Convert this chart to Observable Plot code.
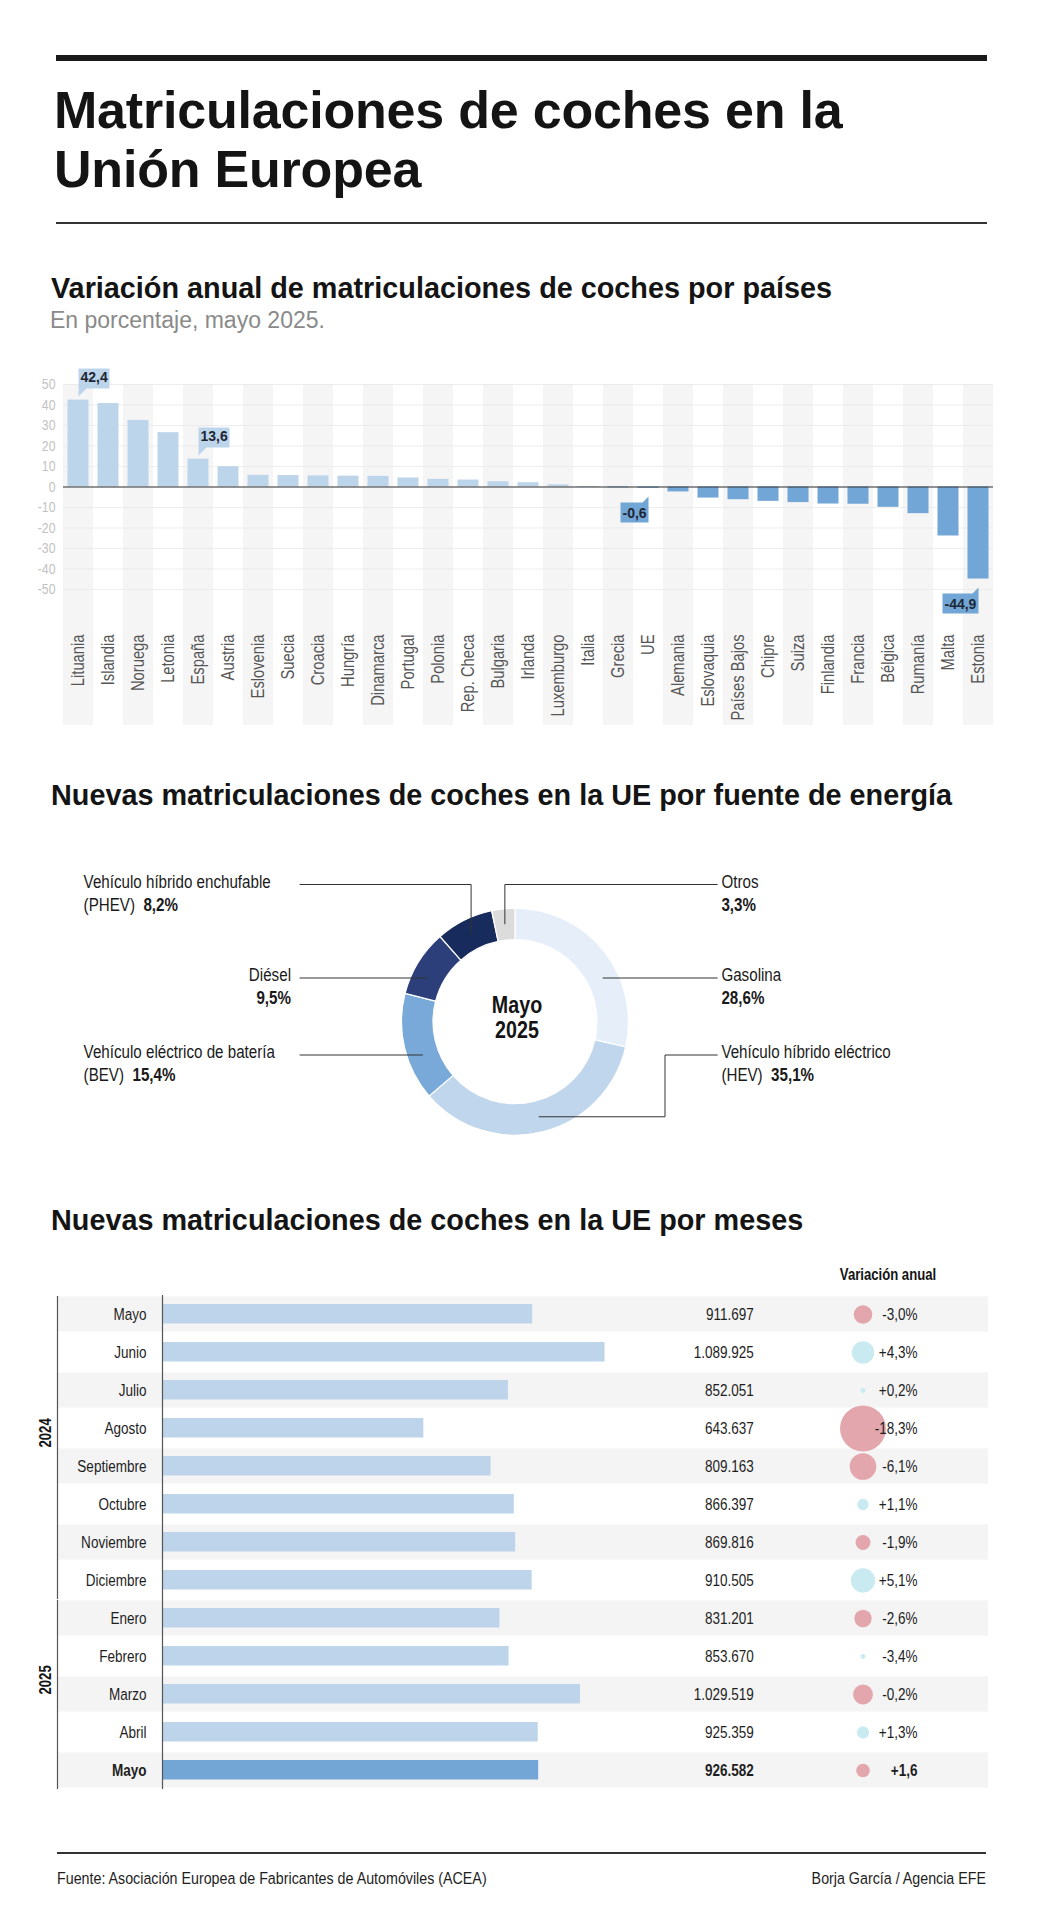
<!DOCTYPE html>
<html>
<head>
<meta charset="utf-8">
<script src="https://cdn.jsdelivr.net/npm/d3@7"></script>
<script src="https://cdn.jsdelivr.net/npm/@observablehq/plot@0.6"></script>
<style>
  html, body { margin: 0; padding: 0; background: #fff; }
  #root { position: relative; width: 1042px; height: 1920px; background: #fff; overflow: hidden; }
  .abs { position: absolute; white-space: nowrap; }
</style>
</head>
<body>
<div id="root"></div>
<script>
// ---------------- DATA ----------------
const paises = ["Lituania","Islandia","Noruega","Letonia","España","Austria","Eslovenia","Suecia","Croacia","Hungría","Dinamarca","Portugal","Polonia","Rep. Checa","Bulgaria","Irlanda","Luxemburgo","Italia","Grecia","UE","Alemania","Eslovaquia","Países Bajos","Chipre","Suiza","Finlandia","Francia","Bélgica","Rumanía","Malta","Estonia"];
const variacionPais = [42.4,40.7,32.5,26.5,13.6,9.9,5.7,5.6,5.4,5.3,5.2,4.4,3.7,3.4,2.6,2.1,1.1,-0.2,-0.4,-0.6,-2.4,-5.4,-6.2,-7.0,-7.6,-8.3,-8.4,-9.9,-13.0,-23.9,-44.9];
const destacadosArriba = ["Lituania","España"];
const destacadosAbajo = ["UE","Estonia"];
const yTicks = [50,40,30,20,10,0,-10,-20,-30,-40,-50];

const fuentes = ["Gasolina","Vehículo híbrido eléctrico","Vehículo eléctrico de batería","Diésel","Vehículo híbrido enchufable","Otros"];
const siglas = ["","HEV","BEV","","PHEV",""];
const cuotas = [28.6,35.1,15.4,9.5,8.2,3.3];
const coloresFuente = ["#e6eff9","#c0d6ec","#78a9d8","#2d3f7b","#172b5c","#dcdcdc"];

const meses = ["Mayo","Junio","Julio","Agosto","Septiembre","Octubre","Noviembre","Diciembre","Enero","Febrero","Marzo","Abril","Mayo"];
const anios = [2024,2024,2024,2024,2024,2024,2024,2024,2025,2025,2025,2025,2025];
const matriculaciones = [911697,1089925,852051,643637,809163,866397,869816,910505,831201,853670,1029519,925359,926582];
const variacionTexto = ["-3,0%","+4,3%","+0,2%","-18,3%","-6,1%","+1,1%","-1,9%","+5,1%","-2,6%","-3,4%","-0,2%","+1,3%","+1,6"];
const variacionBurbuja = [-3.0,4.3,0.2,-18.3,-6.1,1.1,-1.9,5.1,-2.6,0.2,-3.4,1.3,-1.6];

// ---------------- HELPERS ----------------
const SANS = '"Liberation Sans", Arial, Helvetica, sans-serif';
const K = 0.82; // horizontal condensation of the narrow texts
const root = document.getElementById("root");
const fmtDec = v => d3.format(".1f")(v).replace(".", ",").replace("\u2212", "-");
const locale = d3.formatLocale({decimal: ",", thousands: ".", grouping: [3], currency: ["", "€"]});
const fmtMiles = locale.format(",d");

function block(left, top, width, height, color) {
  const d = document.createElement("div");
  d.className = "abs";
  Object.assign(d.style, {left: left + "px", top: top + "px", width: width + "px", height: height + "px", background: color});
  root.appendChild(d);
}
function label(html, o) {
  const d = document.createElement("div");
  d.className = "abs";
  d.innerHTML = html;
  Object.assign(d.style, {
    left: o.left + "px", top: o.top + "px",
    fontFamily: SANS, fontSize: o.size + "px", fontWeight: o.weight || "normal",
    color: o.color || "#1a1a1a", lineHeight: (o.lh || o.size) + "px",
    letterSpacing: (o.ls || 0) + "px"
  });
  if (o.width) { d.style.width = o.width + "px"; d.style.textAlign = o.align || "left"; }
  if (o.narrow) {
    d.style.transform = `scaleX(${K})`;
    d.style.transformOrigin = o.align === "right" ? "right top" : o.align === "center" ? "center top" : "left top";
  }
  root.appendChild(d);
}
function condense(svg) {
  svg.querySelectorAll("text").forEach(t => {
    if (t.closest('[aria-label="tip"]')) return;
    const tr = t.getAttribute("transform");
    if (tr) t.setAttribute("transform", tr + ` scale(${K},1)`);
    else {
      const x = +(t.getAttribute("x") || 0), y = +(t.getAttribute("y") || 0);
      t.removeAttribute("x"); t.removeAttribute("y");
      t.setAttribute("transform", `translate(${x},${y}) scale(${K},1)`);
    }
  });
  return svg;
}
function placeSvg(svg, left, top) {
  const w = document.createElement("div");
  w.className = "abs";
  w.style.left = left + "px"; w.style.top = top + "px";
  w.appendChild(svg);
  root.appendChild(w);
}

// ---------------- HEADER ----------------
block(56, 55, 931, 6, "#1a1a1a");
label("Matriculaciones de coches en la<br>Unión Europea", {left: 54, top: 81, size: 52, weight: "bold", lh: 59, color: "#141414", ls: -0.2});
block(56, 222, 931, 2, "#333");

label("Variación anual de matriculaciones de coches por países", {left: 51, top: 274, size: 28.8, weight: "bold", color: "#141414"});
label("En porcentaje, mayo 2025.", {left: 50, top: 308.5, size: 23, color: "#8a8a8a"});

// ---------------- CHART 1: bars by country ----------------
const filasPais = paises.map((pais, i) => ({pais, v: variacionPais[i], i}));
const chart1 = Plot.plot({
  width: 1042, height: 380,
  marginLeft: 63, marginRight: 49, marginTop: 24, marginBottom: 151,
  x: {domain: paises, padding: 0},
  y: {domain: [-50, 50]},
  style: {fontFamily: SANS, background: "transparent", color: "#1e2633", overflow: "visible"},
  marks: [
    Plot.barY(filasPais.filter(d => d.i % 2 === 0), {x: "pais", y1: 50, y2: -116.3, fill: "#f5f5f5"}),
    Plot.gridY(yTicks, {stroke: "#e6e6e6", strokeOpacity: 1, strokeWidth: 0.7}),
    Plot.barY(filasPais.filter(d => d.v >= 0), {x: "pais", y: "v", fill: "#bdd5eb", insetLeft: 4.5, insetRight: 4.5}),
    Plot.barY(filasPais.filter(d => d.v < 0), {x: "pais", y: "v", fill: "#72a6d6", insetLeft: 4.5, insetRight: 4.5}),
    Plot.ruleY([0], {stroke: "#333", strokeWidth: 1.2}),
    Plot.axisY(yTicks, {label: null, tickSize: 0, tickPadding: 8, tickFormat: d => String(d), fill: "#c2c2c2", fontSize: 15}),
    Plot.axisX({label: null, tickSize: 0, tickPadding: 45, tickRotate: -90, fill: "#555", fontSize: 18}),
    Plot.tip(filasPais.filter(d => destacadosArriba.includes(d.pais)), {
      x: "pais", y: "v", title: d => fmtDec(d.v), anchor: "bottom-left", dy: -4,
      fill: "#bdd5eb", stroke: "none", pathFilter: "none", pointerSize: 8, textPadding: 2,
      fontSize: 14, fontWeight: "bold", fontFamily: SANS
    }),
    Plot.tip(filasPais.filter(d => destacadosAbajo.includes(d.pais)), {
      x: "pais", y: "v", title: d => fmtDec(d.v), anchor: "top-right", dy: 8,
      fill: "#72a6d6", stroke: "none", pathFilter: "none", pointerSize: 6, textPadding: 2,
      fontSize: 14, fontWeight: "bold", fontFamily: SANS
    })
  ]
});
placeSvg(condense(chart1), 0, 360);

// ---------------- CHART 2: donut ----------------
label("Nuevas matriculaciones de coches en la UE por fuente de energía", {left: 51, top: 781, size: 28.8, weight: "bold", color: "#141414"});

const filasFuente = fuentes.map((f, i) => ({fuente: f, sigla: siglas[i], cuota: cuotas[i], color: coloresFuente[i]}));
// label layout (positions only)
const layoutEtiquetas = [
  {side: "right", base: 141, leader: "h"},
  {side: "right", base: 218, leader: "elbow2", elbowX: 665},
  {side: "left", base: 218, leader: "h"},
  {side: "left", base: 141, leader: "h", alignRight: true},
  {side: "left", base: 47.5, leader: "elbow"},
  {side: "right", base: 47.5, leader: "elbow"}
];

function donutMark(index, scales, values, dims) {
  const cx = 515, cy = 181.7, R = 113.5, r0 = 82, rm = 98;
  const g = d3.create("svg:g");
  const arcs = d3.pie().sort(null).value(d => d.cuota)(filasFuente);
  const arc = d3.arc().innerRadius(r0).outerRadius(R);
  const mid = d3.arc().innerRadius(rm).outerRadius(rm);
  g.append("g").attr("transform", `translate(${cx},${cy})`)
    .selectAll("path").data(arcs).join("path")
    .attr("d", arc).attr("fill", d => d.data.color)
    .attr("stroke", "#fff").attr("stroke-width", 1.2);

  const leaders = g.append("g").attr("fill", "none").attr("stroke", "#333").attr("stroke-width", 1);
  const texts = g.append("g").attr("font-family", SANS).attr("font-size", 18.5).attr("fill", "#1a1a1a").attr("text-anchor", "start");
  arcs.forEach((a, i) => {
    const L = layoutEtiquetas[i];
    const [mx, my] = mid.centroid(a);
    const px = cx + mx, py = cy + my;
    const ly = L.base - 3;
    const x0 = L.side === "left" ? 299.6 : 717.6;
    let pts;
    if (L.leader === "h") {
      const dx = Math.sqrt(Math.max(0, rm * rm - (ly - cy) * (ly - cy)));
      pts = [[x0, ly], [L.side === "left" ? cx - dx : cx + dx, ly]];
    } else if (L.leader === "elbow") {
      pts = [[x0, ly], [px, ly], [px, py]];
    } else {
      pts = [[x0, ly], [L.elbowX, ly], [L.elbowX, py], [px, py]];
    }
    leaders.append("path").attr("d", d3.line()(pts));

    const a1 = a.data;
    const pct = fmtDec(a1.cuota) + "%";
    if (L.alignRight) {
      texts.append("text").attr("x", 291).attr("y", L.base).attr("text-anchor", "end").text(a1.fuente);
      texts.append("text").attr("x", 291).attr("y", L.base + 23).attr("text-anchor", "end")
        .attr("font-weight", "bold").text(pct);
    } else {
      const tx = L.side === "left" ? 83.6 : 721.4;
      texts.append("text").attr("x", tx).attr("y", L.base).text(a1.fuente);
      const t2 = texts.append("text").attr("x", tx).attr("y", L.base + 23);
      if (a1.sigla) t2.append("tspan").text("(" + a1.sigla + ")\u00a0\u00a0");
      t2.append("tspan").attr("font-weight", "bold").text(pct);
    }
  });
  const center = g.append("g").attr("font-family", SANS).attr("font-size", 24)
    .attr("font-weight", "bold").attr("fill", "#141414").attr("text-anchor", "middle");
  center.append("text").attr("x", cx + 2).attr("y", 172.7).text("Mayo");
  center.append("text").attr("x", cx + 2).attr("y", 198.3).text("2025");
  return g.node();
}

const chart2 = Plot.plot({
  width: 1042, height: 320, margin: 0,
  style: {background: "transparent", overflow: "visible"},
  marks: [donutMark]
});
placeSvg(condense(chart2), 0, 840);

// ---------------- CHART 3: monthly table ----------------
label("Nuevas matriculaciones de coches en la UE por meses", {left: 51, top: 1206, size: 28.8, weight: "bold", color: "#141414"});
label("Variación anual", {left: 788, top: 1267, width: 200, align: "center", size: 16, weight: "bold", narrow: true, color: "#141414"});

const filasMes = meses.map((m, i) => ({
  id: i, mes: m, anio: anios[i], valor: matriculaciones[i],
  texto: variacionTexto[i], burbuja: variacionBurbuja[i], actual: i === meses.length - 1
}));

function tabla(anio) {
  const rows = filasMes.filter(d => d.anio === anio);
  const normal = rows.filter(d => !d.actual), actual = rows.filter(d => d.actual);
  const txt = {fontSize: 16.5, fill: "#1e1e1e"};
  return Plot.plot({
    width: 1042, height: rows.length * 38,
    marginLeft: 57, marginRight: 54, marginTop: 0, marginBottom: 0,
    x: {domain: [0, 1000000], range: [162, 568], axis: null},
    y: {domain: rows.map(d => d.id), padding: 0, axis: null},
    r: {domain: [0, 18.3], range: [0, 23]},
    style: {fontFamily: SANS, background: "transparent", overflow: "visible"},
    marks: [
      Plot.cell(rows.filter(d => d.id % 2 === 0), {y: "id", fill: "#f4f4f4", insetTop: 1.5, insetBottom: 1.5}),
      Plot.barX(normal, {y: "id", x: "valor", fill: "#bed4ea", insetTop: 9, insetBottom: 9.5}),
      Plot.barX(actual, {y: "id", x: "valor", fill: "#73a6d5", insetTop: 9, insetBottom: 9.5}),
      Plot.ruleX([0], {stroke: "#555", strokeWidth: 1.2}),
      Plot.frame({anchor: "left", stroke: "#555", strokeWidth: 1.2, insetTop: 1, insetBottom: 1}),
      Plot.text(normal, {y: "id", x: 0, dx: -16, text: "mes", textAnchor: "end", ...txt}),
      Plot.text(actual, {y: "id", x: 0, dx: -16, text: "mes", textAnchor: "end", fontWeight: "bold", ...txt}),
      Plot.text(normal, {y: "id", frameAnchor: "right", dx: -234.6, text: d => fmtMiles(d.valor), textAnchor: "end", ...txt}),
      Plot.text(actual, {y: "id", frameAnchor: "right", dx: -234.6, text: d => fmtMiles(d.valor), textAnchor: "end", fontWeight: "bold", ...txt}),
      Plot.dot(rows.filter(d => d.burbuja < 0), {y: "id", frameAnchor: "right", dx: -125.5, r: d => Math.abs(d.burbuja), fill: "#e3a6ac"}),
      Plot.dot(rows.filter(d => d.burbuja >= 0), {y: "id", frameAnchor: "right", dx: -125.5, r: d => Math.abs(d.burbuja), fill: "#c8eaf0"}),
      Plot.text(normal, {y: "id", frameAnchor: "right", dx: -71, text: "texto", ...txt}),
      Plot.text(actual, {y: "id", frameAnchor: "right", dx: -71, text: "texto", fontWeight: "bold", ...txt}),
      Plot.text([String(anio)], {frameAnchor: "left", dx: -12, rotate: -90, text: d => d, fontWeight: "bold", fontSize: 16, fill: "#141414"})
    ]
  });
}
placeSvg(condense(tabla(2024)), 0, 1295);
placeSvg(condense(tabla(2025)), 0, 1599);

// ---------------- FOOTER ----------------
block(57, 1852, 929, 2, "#333");
label("Fuente: Asociación Europea de Fabricantes de Automóviles (ACEA)", {left: 57, top: 1870, size: 17.4, narrow: true, color: "#1e1e1e"});
label("Borja García / Agencia EFE", {left: 686, top: 1870, width: 300, align: "right", size: 17.4, narrow: true, color: "#1e1e1e"});
</script>
</body>
</html>
